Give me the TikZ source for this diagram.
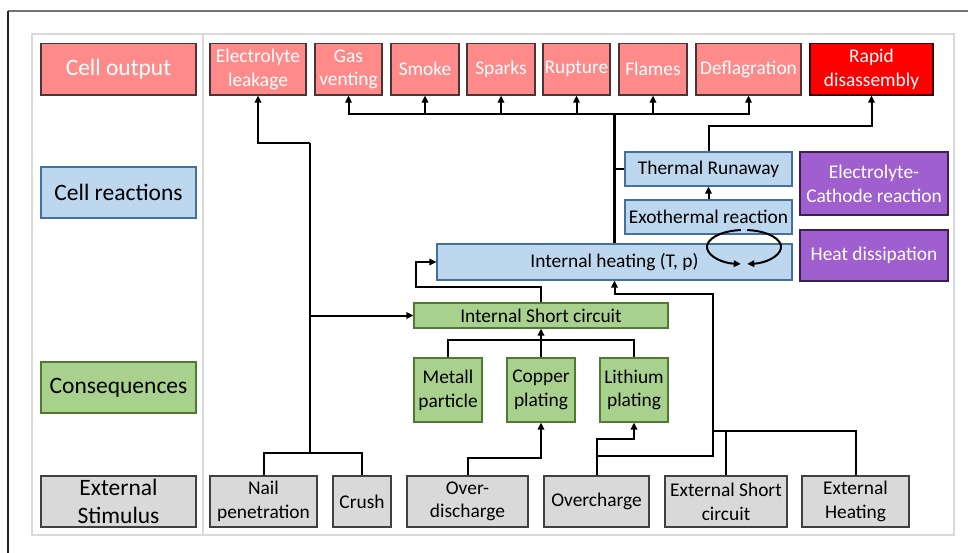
\documentclass[tikz,border=0pt]{standalone}
\usepackage{fontspec}
\setmainfont{Carlito}
\usetikzlibrary{arrows.meta}

\definecolor{pinkfill}{HTML}{FF8A8A}
\definecolor{pinkedge}{HTML}{4A3434}
\definecolor{redfill}{HTML}{FF0000}
\definecolor{rededge}{HTML}{3A0000}
\definecolor{bluefill}{HTML}{BDD7EE}
\definecolor{blueedge}{HTML}{41719C}
\definecolor{greenfill}{HTML}{A9D18E}
\definecolor{greenedge}{HTML}{4E7A32}
\definecolor{greyfill}{HTML}{D9D9D9}
\definecolor{greyedge}{HTML}{404040}
\definecolor{purplefill}{HTML}{A05FCF}
\definecolor{purpleedge}{HTML}{3C2150}
\definecolor{framegrey}{HTML}{D9D9D9}

% box given by its corners: name, x1, y1, x2, y2, style, text
\newcommand{\cornerbox}[7]{%
  \node[#6, minimum width={(#4)-(#2)}, minimum height={(#5)-(#3)}]
    (#1) at ({((#2)+(#4))/2},{((#3)+(#5))/2}) {#7};}

\tikzset{
  box/.style={draw, inner sep=0pt, align=center, line width=1.2pt,
    font=\fontsize{19.4}{23.7}\selectfont},
  lbl/.style={box, font=\fontsize{23.5}{28}\selectfont},
  pinkbox/.style={fill=pinkfill, draw=pinkedge, text=white},
  redbox/.style={fill=redfill, draw=rededge, text=white},
  bluebox/.style={fill=bluefill, draw=blueedge, text=black},
  greenbox/.style={fill=greenfill, draw=greenedge, text=black},
  greybox/.style={fill=greyfill, draw=greyedge, text=black},
  purplebox/.style={fill=purplefill, draw=purpleedge, text=white},
  ln/.style={draw=black, line width=2pt},
  arr/.style={ln, -{Triangle[length=7pt, width=6.5pt]}},
}

\begin{document}
\begin{tikzpicture}[x=1pt, y=-1pt]
\useasboundingbox (0,0) rectangle (968,553);

% outer frame (open at right and bottom)
\draw[draw=black!55, line width=1.5pt] (968,11) -- (8,11);
\draw[draw=black!85, line width=1.2pt] (8,11) -- (8,553);

% inner frame and column divider
\draw[draw=framegrey, line width=1.6pt] (32,34) rectangle (954,535);
\draw[draw=framegrey, line width=1.6pt] (203,34) -- (203,535);

% row labels
\cornerbox{lout}{41}{43.5}{196}{95}{lbl,pinkbox}{Cell output}
\cornerbox{lreact}{41}{167}{196}{218}{lbl,bluebox}{Cell reactions}
\cornerbox{lcons}{41}{362}{196}{413}{lbl,greenbox}{Consequences}
\cornerbox{lext}{41}{476}{196}{527}{lbl,greybox}{External\\Stimulus}

% cell output
\cornerbox{leak}{210}{43.5}{306}{95}{box,pinkbox}{Electrolyte\\leakage}
\cornerbox{gas}{315}{43.5}{382}{95}{box,pinkbox}{Gas\\venting}
\cornerbox{smoke}{391}{43.5}{459}{95}{box,pinkbox}{Smoke}
\cornerbox{sparks}{467}{43.5}{535}{95}{box,pinkbox}{Sparks}
\cornerbox{rupture}{543}{43.5}{610}{95}{box,pinkbox}{Rupture}
\cornerbox{flames}{619}{43.5}{687}{95}{box,pinkbox}{Flames}
\cornerbox{defl}{696}{43.5}{801}{95}{box,pinkbox}{Deflagration}
\cornerbox{rapid}{810}{43.5}{933}{95}{box,redbox}{Rapid\\disassembly}

% cell reactions
\cornerbox{tr}{625}{152}{792}{186}{box,bluebox}{Thermal Runaway}
\cornerbox{exo}{625}{200}{792}{234}{box,bluebox}{Exothermal reaction}
\cornerbox{ih}{437}{244}{792}{280}{box,bluebox}{Internal heating (T, p)}
\cornerbox{ec}{800}{152}{948}{215}{box,purplebox}{Electrolyte-\\Cathode reaction}
\cornerbox{hd}{800}{230}{948}{281}{box,purplebox}{Heat dissipation}

% consequences
\cornerbox{isc}{414}{303}{668}{328}{box,greenbox}{Internal Short circuit}
\cornerbox{metall}{414}{358}{482}{422}{box,greenbox}{Metall\\particle}
\cornerbox{copper}{507}{358}{575}{422}{box,greenbox}{Copper\\plating}
\cornerbox{lithium}{600}{358}{668}{422}{box,greenbox}{Lithium\\plating}

% external stimulus
\cornerbox{nail}{210}{476}{317}{527}{box,greybox}{Nail\\penetration}
\cornerbox{crush}{333}{476}{391}{527}{box,greybox}{Crush}
\cornerbox{odis}{407}{476}{528}{527}{box,greybox}{Over-\\discharge}
\cornerbox{ochg}{544}{476}{649}{527}{box,greybox}{Overcharge}
\cornerbox{exsc}{665}{476}{787}{527}{box,greybox}{External Short\\circuit}
\cornerbox{exh}{802}{476}{909}{527}{box,greybox}{External\\Heating}

% junction points
\coordinate (tj) at (310,453);
\coordinate (tk) at (310,143);
\coordinate (fb) at (416,287);
\coordinate (oj) at (596.5,456);
\coordinate (rt) at (713,294);
\coordinate (ej) at (713,431);
\coordinate (ob) at (614.5,114);

% mechanical abuse trunk
\draw[ln] (nail.north) |- (tj) -| (crush.north);
\draw[ln, line width=2.4pt] (tj) -- (tk);
\draw[arr] (tk) -| (leak.south);
\draw[arr] (tj |- isc.west) -- (isc.west);

% short circuit feeds internal heating
\draw[arr] (isc.north) |- (fb) |- (ih.west);
\draw[arr] (copper.north) -- (isc.south);
\draw[ln] (metall.north) -- ++(0,-17) -| (lithium.north);

% electrical abuse
\draw[arr] (odis.north) -- ++(0,-17) -| (copper.south);
\draw[arr] (ochg.north) -- ++(0,-36) -| (lithium.south);
\draw[ln] (ochg.north) -- (oj);
\draw[arr] (oj) -| (rt) -| (ih.south);
\draw[ln] (exsc.north) |- (ej);
\draw[ln] (exh.north) |- (ej);

% heating to outputs
\draw[ln, line width=2.2pt] (ih.north) -- (ob);
\foreach \o in {gas,smoke,sparks,rupture,flames,defl}
  \draw[arr] (ob) -| (\o.south);
\draw[ln] (tr.west) -- (ih.north |- tr.west);
\draw[arr] (tr.north) -- ++(0,-25) -| (rapid.south);
\draw[arr] (exo.north) -- (tr.south);

% feedback loop
\draw[arr] (744,247) ++(265:37 and 17) arc[start angle=265, end angle=95, x radius=37, y radius=17];
\draw[arr] (744,247) ++(-85:37 and 17) arc[start angle=-85, end angle=85, x radius=37, y radius=17];
\end{tikzpicture}
\end{document}
